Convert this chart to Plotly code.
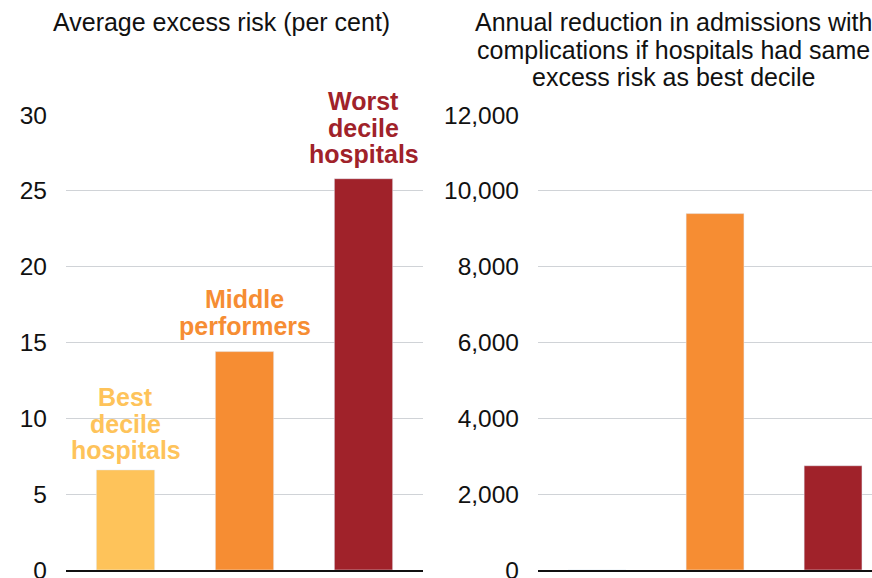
import plotly.graph_objects as go

W, H = 872, 578

categories = ["Best decile hospitals", "Middle performers", "Worst decile hospitals"]
excess_risk = [6.6, 14.4, 25.8]              # per cent
admission_reduction = [0, 9400, 2750]        # admissions per year
bar_colors = ["#FEC35A", "#F68D33", "#A0222A"]

left_title = ["Average excess risk (per cent)"]
right_title = ["Annual reduction in admissions with",
               "complications if hospitals had same",
               "excess risk as best decile"]
bar_labels = [["Best", "decile", "hospitals"],
              ["Middle", "performers"],
              ["Worst", "decile", "hospitals"]]

FONT = "Liberation Sans, Arial, Helvetica, sans-serif"

def py(p):
    return 1 - p / H

fig = go.Figure()
fig.add_trace(go.Bar(x=categories, y=excess_risk, marker_color=bar_colors,
                     width=0.49, xaxis="x", yaxis="y", hoverinfo="x+y"))
fig.add_trace(go.Bar(x=categories, y=admission_reduction, marker_color=bar_colors,
                     width=0.49, xaxis="x2", yaxis="y2", hoverinfo="x+y"))

grid = "#D0D3D7"
common_y = dict(showgrid=True, gridcolor=grid, gridwidth=1, zeroline=False,
                ticks="", tickfont=dict(size=24.5, color="#111111", family=FONT),
                ticklabelstandoff=18, ticklabeloverflow="allow",
                domain=[py(570), py(115)], automargin=False)
common_x = dict(showticklabels=False, ticks="", showgrid=False, zeroline=False,
                showline=True, linecolor="#111111", linewidth=1.5, automargin=False)

fig.update_layout(
    width=W, height=H,
    margin=dict(l=0, r=0, t=0, b=0, pad=0),
    paper_bgcolor="white", plot_bgcolor="white",
    showlegend=False,
    font=dict(family=FONT, color="#111111"),
    xaxis=dict(domain=[66 / W, 423 / W], range=[-0.5, 2.5], anchor="y", **common_x),
    yaxis=dict(range=[0, 30], dtick=5, anchor="x", **common_y),
    xaxis2=dict(domain=[538 / W, 1.0], range=[-0.5, 2.33], anchor="y2", **common_x),
    yaxis2=dict(range=[0, 12000], dtick=2000, tickformat=",", anchor="x2", **common_y),
)

ann = []
# titles
for i, line in enumerate(left_title):
    ann.append(dict(text=line, x=221 / W, y=py(22 + 27.5 * i), xref="paper", yref="paper",
                    showarrow=False, xanchor="center", yanchor="middle",
                    font=dict(size=25, color="#111111", family=FONT)))
for i, line in enumerate(right_title):
    ann.append(dict(text=line, x=673 / W, y=py(22 + 27.5 * i), xref="paper", yref="paper",
                    showarrow=False, xanchor="center", yanchor="middle",
                    font=dict(size=25, color="#111111", family=FONT)))

# bar labels (pixel centre of first line)
label_tops = [397, 299, 101]
for cat, lines, top, col in zip(categories, bar_labels, label_tops, bar_colors):
    for j, line in enumerate(lines):
        ann.append(dict(text="<b>" + line + "</b>", x=cat, xref="x",
                        y=py(top + 26.5 * j), yref="paper",
                        showarrow=False, xanchor="center", yanchor="middle",
                        font=dict(size=25, color=col, family=FONT)))

fig.update_layout(annotations=ann)
fig.write_html("out.html", config={"displayModeBar": False},
               post_script="document.body.style.margin='0';document.body.style.overflow='hidden';")
